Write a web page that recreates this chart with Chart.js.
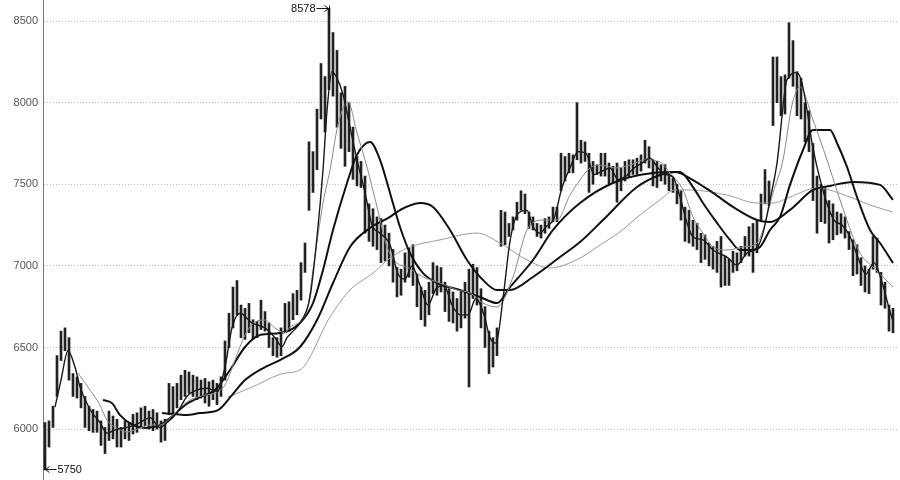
<!DOCTYPE html>
<html>
<head>
<meta charset="utf-8">
<script src="https://cdn.jsdelivr.net/npm/chart.js@4.4.1/dist/chart.umd.min.js"></script>
<style>
  html, body { margin: 0; padding: 0; background: #fff; }
  #wrap { width: 900px; height: 480px; }
</style>
</head>
<body>
<div id="wrap"><canvas id="chart" width="900" height="480"></canvas></div>
<script>
// price bars, one per session (low / high)
const barLow = [
  5750, 5890, 6010, 6200, 6420, 6480, 6300, 6200, 6190, 6130,
  6010, 5990, 5980, 5980, 5900, 5850, 5930, 5940, 5890, 5890,
  5940, 5930, 5970, 5980, 6010, 6020, 6000, 5990, 6000, 5920,
  5930, 6090, 6100, 6130, 6180, 6200, 6220, 6200, 6180, 6190,
  6160, 6140, 6180, 6150, 6200, 6300, 6500, 6620, 6700, 6560,
  6550, 6590, 6550, 6560, 6610, 6600, 6500, 6450, 6440, 6450,
  6590, 6600, 6670, 6700, 6790, 6960, 7340, 7450, 7590, 7900,
  7820, 8080, 8040, 7850, 7720, 7610, 7700, 7530, 7490, 7480,
  7200, 7150, 7120, 7100, 7020, 7030, 7000, 6900, 6810, 6820,
  6900, 6930, 6880, 6750, 6670, 6630, 6700, 6830, 6820, 6840,
  6720, 6660, 6650, 6600, 6620, 6680, 6258, 6800, 6760, 6620,
  6500, 6340, 6380, 6450, 7120, 7130, 7180, 7220, 7280, 7340,
  7320, 7230, 7220, 7180, 7170, 7200, 7230, 7270, 7270, 7460,
  7520, 7570, 7570, 7650, 7630, 7640, 7450, 7500, 7560, 7550,
  7550, 7500, 7510, 7390, 7460, 7520, 7540, 7560, 7560, 7580,
  7630, 7600, 7490, 7480, 7520, 7500, 7460, 7450, 7380, 7280,
  7150, 7140, 7120, 7100, 7020, 7040, 7000, 6980, 6960, 6870,
  6880, 6880, 6960, 6970, 7020, 7060, 7060, 6960, 7080, 7280,
  7380, 7370, 7860, 8000, 7920, 7930, 8150, 8100, 7920, 7900,
  7760, 7700, 7400, 7200, 7270, 7260, 7140, 7160, 7190, 7200,
  7170, 7100, 6940, 6950, 6880, 6840, 6830, 6980, 6960, 6760,
  6740, 6600, 6590
];
const barHigh = [
  6040, 6050, 6140, 6450, 6600, 6620, 6560, 6340, 6320, 6280,
  6200, 6140, 6120, 6110, 6050, 6010, 6110, 6080, 6060, 6010,
  6050, 6040, 6090, 6100, 6130, 6140, 6110, 6120, 6100, 6050,
  6060, 6280, 6260, 6280, 6330, 6360, 6350, 6330, 6320, 6300,
  6310, 6290, 6300, 6280, 6320, 6540, 6710, 6870, 6910, 6760,
  6740, 6770, 6670, 6660, 6790, 6720, 6650, 6560, 6560, 6620,
  6770, 6780, 6830, 6850, 7020, 7140, 7760, 7700, 7960, 8240,
  8160, 8578, 8430, 8320, 8060, 8100, 8000, 7850, 7670, 7640,
  7550, 7380, 7350, 7300, 7290, 7250, 7200, 7100, 6990, 6980,
  7080, 7110, 7130, 6950, 6870, 6850, 6900, 7020, 7000, 6990,
  6900, 6860, 6840, 6800, 6850, 6900, 6980, 7010, 6990, 6860,
  6750, 6600, 6560, 6620, 7340, 7330, 7260, 7300, 7390, 7460,
  7440, 7330, 7300, 7260, 7250, 7290, 7300, 7360, 7360, 7690,
  7670, 7690, 7680, 8000, 7770, 7760, 7690, 7640, 7620, 7690,
  7690, 7630, 7610, 7630, 7600, 7640, 7650, 7650, 7660, 7680,
  7770, 7730, 7650, 7640, 7620, 7620, 7560, 7540, 7500, 7460,
  7360, 7340, 7280, 7260, 7200, 7190, 7140, 7120, 7150, 7180,
  7060, 7040, 7090, 7080, 7120, 7180, 7240, 7260, 7280, 7440,
  7590, 7520, 8280, 8280, 8160, 8170, 8490, 8380, 8190, 8150,
  8000, 7950, 7750, 7550, 7500, 7480, 7400, 7380, 7330, 7320,
  7300, 7210, 7160, 7130, 7050, 7000, 6980, 7180, 7170, 6960,
  6900, 6760, 6740
];

// moving averages: [bar index, value]
const ma5 = [
  [2.5, 6135], [4, 6300], [5.75, 6480], [7.5, 6380], [8.75, 6260], [11.25, 6120],
  [13.75, 6040], [15.5, 5975], [18, 6000], [20.5, 6010], [23.75, 6040], [26.25, 6070],
  [28.75, 6010], [30.5, 6040], [33, 6100], [35.5, 6200], [38, 6240], [40.5, 6250],
  [43, 6230], [45, 6380], [46.75, 6620], [48.75, 6710], [51.75, 6650], [55, 6620],
  [57.5, 6560], [59.25, 6505], [60.5, 6560], [62, 6600], [63.75, 6650], [66.25, 6809],
  [68, 7177], [69.5, 7588], [70.5, 7950], [71.75, 8190], [73, 8150], [74.5, 8050],
  [76.25, 7850], [78, 7650], [80, 7450], [81.75, 7250], [83.75, 7200], [86.25, 7130],
  [88.25, 6950], [90, 6920], [91.75, 7000], [93.75, 6880], [95.75, 6760], [97.75, 6860],
  [99.75, 6880], [101.75, 6760], [103.75, 6700], [105.75, 6700], [107.75, 6800],
  [109.75, 6700], [111.25, 6560], [112.75, 6527], [114.5, 6800], [116.25, 7150],
  [118.25, 7320], [120.5, 7340], [122, 7240], [123.75, 7200], [125.25, 7240],
  [127.25, 7290], [129.25, 7480], [131.25, 7600], [133.25, 7700], [135.25, 7690],
  [137.25, 7560], [139.25, 7580], [141.25, 7600], [143.25, 7530], [145.25, 7550],
  [147.25, 7600], [149.25, 7630], [151.25, 7660], [153.25, 7600], [155.25, 7560],
  [157, 7545], [158.75, 7422], [160.5, 7263], [162, 7177], [164.5, 7159], [167, 7097],
  [170.5, 7054], [173, 7005], [175.5, 7079], [178, 7110], [179.5, 7201], [181.25, 7404],
  [183, 7630], [185.5, 8140], [188, 8184], [189.25, 8120], [190.5, 7955], [191.75, 7753],
  [193, 7606], [195.25, 7400], [197.25, 7280], [199.25, 7250], [201.25, 7180],
  [203.25, 7050], [205.25, 6950], [207.25, 7020], [209.25, 6900], [211.25, 6720], [212, 6660]
];
const ma10 = [
  [8.25, 6343], [11.25, 6239], [13.75, 6147], [15.5, 6055], [18, 6006], [20.5, 5982],
  [23.75, 6006], [26.25, 6025], [28.75, 6025], [31.25, 6067], [33.75, 6129], [36.25, 6178],
  [40, 6208], [42.5, 6221], [45, 6270], [47.5, 6423], [50, 6576], [52.5, 6656],
  [55, 6668], [57.5, 6619], [60, 6590], [61.25, 6625], [65.5, 6729], [67, 6975],
  [69.5, 7385], [71.25, 7588], [73.25, 7864], [75.75, 8005], [78, 7814], [80.5, 7606],
  [83, 7361], [85.5, 7116], [88, 7018], [90.5, 6993], [94.5, 6932], [98.75, 6895],
  [103, 6852], [106.25, 6834], [109.5, 6772], [113, 6748], [117, 6932], [120.5, 7220],
  [124.5, 7281], [128, 7281], [131.25, 7434], [133.75, 7526], [136.25, 7600], [138.75, 7618],
  [142.5, 7600], [146.25, 7618], [150, 7649], [153.75, 7637], [156.25, 7569], [159.5, 7465],
  [162, 7300], [164.5, 7201], [167, 7116], [170.5, 7097], [174.5, 7116], [178, 7140],
  [179.5, 7220], [182, 7447], [184.5, 7649], [186.75, 7986], [188.75, 8096], [192, 7894],
  [195.5, 7649], [198.75, 7404], [203.75, 7079], [207, 6993], [212, 6870]
];
const ma20 = [
  [14.5, 6178], [16.75, 6159], [18.75, 6086], [22, 6025], [25, 6006], [28.75, 6025],
  [31.25, 6067], [35, 6147], [38.75, 6196], [42.5, 6239], [46.25, 6362], [50, 6503],
  [53.75, 6576], [58.75, 6588], [63.75, 6650], [67, 6772], [69.5, 6975], [72, 7220],
  [75.5, 7508], [78, 7680], [81.25, 7759], [83.75, 7650], [86.25, 7447], [88.75, 7238],
  [91.25, 7079], [94.5, 6956], [98, 6895], [103.75, 6852], [108.75, 6809], [113, 6772],
  [116.25, 6870], [122, 7036], [127, 7220], [133.75, 7385], [142, 7508], [152, 7569],
  [158.75, 7575], [162, 7483], [164.5, 7385], [168, 7263], [171.25, 7159], [173.75, 7097],
  [176.25, 7097], [178.75, 7116], [181.25, 7220], [183.75, 7300], [186.25, 7496],
  [189.5, 7710], [192, 7833], [196.25, 7833], [198, 7753], [200.5, 7606], [203, 7422],
  [206.25, 7220], [208.75, 7140], [212, 7018]
];
const ma40 = [
  [29.25, 6098], [32.5, 6092], [35.5, 6086], [38.75, 6098], [43.25, 6116], [46.75, 6208],
  [50, 6300], [55, 6380], [58.75, 6423], [63.75, 6503], [68, 6668], [72, 6895],
  [76.25, 7116], [81.25, 7232], [86.25, 7300], [88.75, 7342], [93.75, 7385], [97, 7361],
  [101.25, 7220], [105.5, 7036], [109.5, 6913], [113, 6852], [116.25, 6852], [122, 6932],
  [128.75, 7054], [133.75, 7146], [139.5, 7281], [148, 7483], [153.75, 7557], [157.5, 7575],
  [162, 7526], [167, 7447], [172, 7361], [178, 7281], [181.25, 7269], [186.25, 7343],
  [192, 7465], [196.25, 7490], [202, 7514], [208.75, 7496], [212, 7404]
];
const ma60 = [
  [45.75, 6196], [51.75, 6257], [60, 6343], [63.75, 6362], [71.25, 6687], [76.25, 6852],
  [82, 6956], [86.25, 7048], [91.25, 7116], [98.75, 7159], [108, 7201], [113.75, 7140],
  [120.5, 7036], [126.25, 6987], [133.75, 7048], [138.75, 7128], [143.75, 7208],
  [148.75, 7312], [153.75, 7404], [157.5, 7465], [161.25, 7465], [170.5, 7434],
  [178, 7385], [182, 7385], [186.25, 7422], [193, 7477], [201.25, 7422], [206.25, 7373],
  [212, 7330]
];

const yTicks = [6000, 6500, 7000, 7500, 8000, 8500];
const peak = { at: 71, value: 8578 };
const trough = { at: 0, value: 5750 };

const toPoints = arr => arr.map(p => ({ x: p[0], y: p[1] }));

function maLine(data, color, width, order) {
  return {
    type: 'line',
    data: toPoints(data),
    borderColor: color,
    borderWidth: width,
    pointRadius: 0,
    fill: false,
    cubicInterpolationMode: 'monotone',
    order: order
  };
}

// arrows + labels for the extreme high / low
const markers = {
  id: 'markers',
  afterDatasetsDraw(chart) {
    const { ctx, scales: { x, y } } = chart;
    ctx.save();
    ctx.strokeStyle = '#111';
    ctx.fillStyle = '#111';
    ctx.lineWidth = 1;
    ctx.font = '11px "Liberation Sans", Arial, sans-serif';
    ctx.textBaseline = 'middle';

    let px = Math.round(x.getPixelForValue(peak.at)) + 0.5;
    let py = Math.round(y.getPixelForValue(peak.value)) + 0.5;
    ctx.beginPath();
    ctx.moveTo(px - 13, py); ctx.lineTo(px - 1, py);
    ctx.moveTo(px - 5, py - 3); ctx.lineTo(px - 1, py); ctx.lineTo(px - 5, py + 3);
    ctx.moveTo(px, py - 3); ctx.lineTo(px, py + 8);
    ctx.stroke();
    ctx.textAlign = 'right';
    ctx.fillText(String(peak.value), px - 14, py);

    px = Math.round(x.getPixelForValue(trough.at)) - 0.5;
    py = Math.round(y.getPixelForValue(trough.value)) - 0.5;
    ctx.beginPath();
    ctx.moveTo(px, py - 14); ctx.lineTo(px, py);
    ctx.moveTo(px + 1, py); ctx.lineTo(px + 12, py);
    ctx.moveTo(px + 5, py - 3); ctx.lineTo(px + 1, py); ctx.lineTo(px + 5, py + 3);
    ctx.stroke();
    ctx.textAlign = 'left';
    ctx.fillText(String(trough.value), px + 13, py);
    ctx.restore();
  }
};

new Chart(document.getElementById('chart'), {
  type: 'bar',
  data: {
    datasets: [
      maLine(ma5, '#1a1a1a', 1.4, 1),
      maLine(ma10, '#8a8a8a', 1, 2),
      maLine(ma20, '#111', 2, 3),
      maLine(ma40, '#111', 2, 4),
      maLine(ma60, '#9a9a9a', 1, 5),
      {
        type: 'bar',
        data: barLow.map((lo, i) => ({ x: i, y: [lo, barHigh[i]] })),
        backgroundColor: '#222',
        borderWidth: 0,
        barThickness: 2,
        order: 10
      }
    ]
  },
  options: {
    responsive: false,
    animation: false,
    layout: { padding: { left: 0, right: 3, top: 0, bottom: 0 } },
    plugins: { legend: { display: false }, tooltip: { enabled: false } },
    scales: {
      x: {
        type: 'linear',
        display: false,
        offset: false,
        min: -0.5,
        max: 213
      },
      y: {
        min: 5688,
        max: 8629,
        afterBuildTicks: axis => { axis.ticks = yTicks.map(v => ({ value: v })); },
        afterFit: axis => {
          axis.width = 43;
          axis.paddingTop = 0;
          axis.paddingBottom = 0;
        },
        grid: { color: '#bdbdbd', drawTicks: false, lineWidth: 1 },
        border: { display: true, color: '#7a7a7a', width: 1, dash: [1, 2] },
        ticks: {
          color: '#555',
          padding: 5,
          font: { family: '"Liberation Sans", Arial, sans-serif', size: 11 },
          callback: v => String(v)
        }
      }
    }
  },
  plugins: [markers]
});
</script>
</body>
</html>
